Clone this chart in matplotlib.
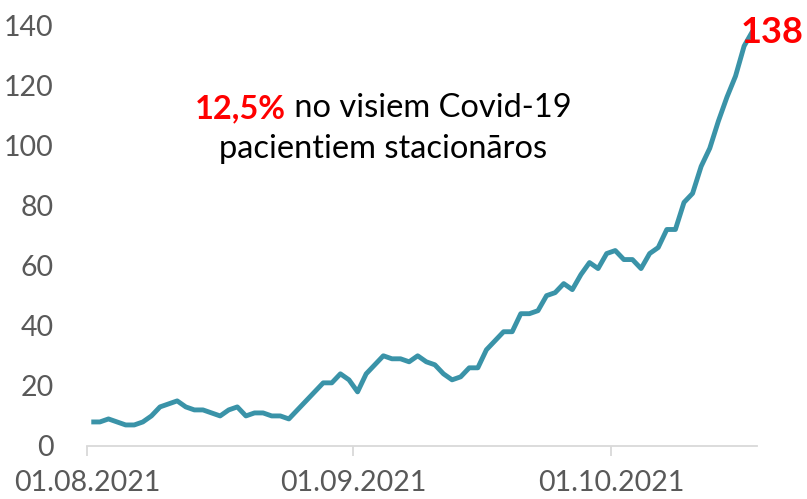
import matplotlib
matplotlib.use("Agg")
import matplotlib.pyplot as plt
import matplotlib.dates as mdates
import pandas as pd
import numpy as np

plt.rcParams['font.family'] = ['Lato', 'DejaVu Sans']

start_date = "2021-08-01"
values = [8, 8, 9, 8, 7, 7, 8, 10, 13, 14, 15, 13, 12, 12, 11, 10, 12, 13, 10, 11,
          11, 10, 10, 9, 12, 15, 18, 21, 21, 24, 22, 18, 24, 27, 30, 29, 29, 28, 30, 28,
          27, 24, 22, 23, 26, 26, 32, 35, 38, 38, 44, 44, 45, 50, 51, 54, 52, 57, 61, 59,
          64, 65, 62, 62, 59, 64, 66, 72, 72, 81, 84, 93, 99, 108, 116, 123, 133, 138]
tick_dates = ["2021-08-01", "2021-09-01", "2021-10-01"]
tick_labels = ["01.08.2021", "01.09.2021", "01.10.2021"]
y_ticks = [0, 20, 40, 60, 80, 100, 120, 140]
note_red = "12,5%"
note_rest = " no visiem Covid-19"
note_line2 = "pacientiem stacionāros"

dates = pd.date_range(start_date, periods=len(values), freq="D")
x = dates + pd.Timedelta(hours=12)

W, H = 807, 499
fig = plt.figure(figsize=(W / 100, H / 100), dpi=100)
ax = fig.add_axes([87 / W, 1 - 446 / H, (757 - 87) / W, (446 - 25) / H])

line_color = "#3A93A8"
ax.plot(x, values, color=line_color, lw=3.5, solid_joinstyle="round", solid_capstyle="butt", clip_on=False)

ax.set_xlim(dates[0], dates[-1] + pd.Timedelta(days=1))
ax.set_ylim(0, 140)

ax.set_xticks(pd.to_datetime(tick_dates))
ax.set_xticklabels(tick_labels)
ax.set_yticks(y_ticks)

for s in ["top", "right", "left"]:
    ax.spines[s].set_visible(False)
ax.spines["bottom"].set_color("#d9d9d9")
ax.spines["bottom"].set_linewidth(1.3)

ax.tick_params(axis="x", length=7, width=1.3, color="#d9d9d9", labelsize=20.5,
               labelcolor="#595959", pad=10.5)
ax.tick_params(axis="y", length=0, labelsize=20.5, labelcolor="#595959", pad=24)

# end label
ax.annotate(str(values[-1]), xy=(x[-1], values[-1]), xytext=(-9, -1),
            textcoords="offset points", color="#FF0000", fontsize=26,
            fontweight="bold", ha="left", va="center", annotation_clip=False)

# note text
t1 = fig.text(195 / W, 1 - 118 / H, note_red, color="#FF0000", fontsize=23.5,
              fontweight="bold", ha="left", va="baseline")
ax.annotate(note_rest, xy=(1, 0), xycoords=t1, va="bottom", ha="left",
            fontsize=23.5, color="black")
fig.text(383 / W, 1 - 158 / H, note_line2, color="black", fontsize=23.5,
         ha="center", va="baseline")

fig.savefig("out.png", dpi=100)
